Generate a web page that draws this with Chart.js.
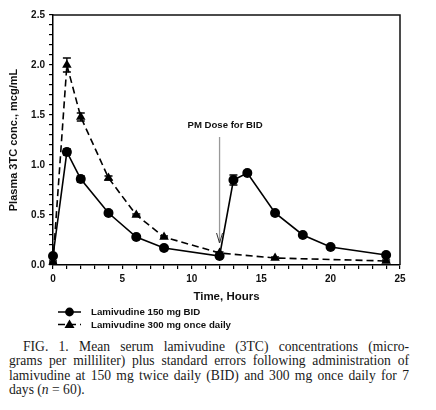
<!DOCTYPE html>
<html>
<head>
<meta charset="utf-8">
<script src="https://cdn.jsdelivr.net/npm/chart.js@4.4.1/dist/chart.umd.min.js"></script>
<style>
  html, body { margin: 0; padding: 0; background: #fff; }
  #wrap { position: relative; width: 436px; height: 410px; }
  #chart { position: absolute; left: 0; top: 0; }
  #caption {
    position: absolute; left: 9px; top: 340px; width: 400px;
    font-family: 'Liberation Serif', 'Times New Roman', serif;
    font-size: 13.6px; line-height: 14.3px; color: #1a1a1a;
  }
  #caption div { text-align: justify; text-align-last: justify; white-space: nowrap; }
  #caption div.first { padding-left: 14px; }
  #caption div.last { text-align-last: left; }
</style>
</head>
<body>
<div id="wrap">
  <canvas id="chart" width="436" height="335"></canvas>
  <div id="caption">
    <div class="first">FIG. 1. Mean serum lamivudine (3TC) concentrations (micro-</div>
    <div>grams per milliliter) plus standard errors following administration of</div>
    <div>lamivudine at 150 mg twice daily (BID) and 300 mg once daily for 7</div>
    <div class="last">days (<i>n</i> = 60).</div>
  </div>
</div>
<script>
'use strict'

// BID: 150 mg twice daily
var bidHours = [0, 1, 2, 4, 6, 8, 12, 13, 14, 16, 18, 20, 24]
var bidConc = [0.09, 1.13, 0.86, 0.52, 0.28, 0.17, 0.09, 0.85, 0.92, 0.52, 0.30, 0.18, 0.10]
var bidSE = [0.01, 0.03, 0.03, 0.02, 0.01, 0.01, 0.01, 0.05, 0.02, 0.02, 0.01, 0.01, 0.01]

// 300 mg once daily
var qdHours = [0, 1, 2, 4, 6, 8, 12, 16, 24]
var qdConc = [0.03, 2.00, 1.48, 0.87, 0.50, 0.28, 0.12, 0.07, 0.04]
var qdSE = [0.01, 0.07, 0.04, 0.02, 0.01, 0.01, 0.01, 0.01, 0.01]

var seriesLabels = ['Lamivudine 150 mg BID', 'Lamivudine 300 mg once daily']
var xMajorTicks = [0, 5, 10, 15, 20, 25]
var yMajorTicks = [0.0, 0.5, 1.0, 1.5, 2.0, 2.5]

// PM dose arrow (data units)
var doseLabel = 'PM Dose for BID'
var doseHour = 12
var doseFrom = 1.28
var doseTo = 0.22
var doseTextAt = 1.40

var sansFamily = "'Liberation Sans', Arial, sans-serif"

function toPoints(xs, ys) {
  return xs.map(function(x, i) { return { x: x, y: ys[i] } })
}

var errorBars = {
  id: 'errorBars',
  afterDatasetsDraw: function(chart) {
    var ctx = chart.ctx
    var xs = chart.scales.x, ys = chart.scales.y
    var sets = [[bidHours, bidConc, bidSE], [qdHours, qdConc, qdSE]]
    ctx.save()
    ctx.strokeStyle = '#000'
    ctx.lineWidth = 1.3
    sets.forEach(function(s) {
      s[0].forEach(function(h, i) {
        var px = xs.getPixelForValue(h)
        var top = ys.getPixelForValue(s[1][i] + s[2][i])
        var bot = ys.getPixelForValue(s[1][i] - s[2][i])
        ctx.beginPath()
        ctx.moveTo(px, top); ctx.lineTo(px, bot)
        ctx.moveTo(px - 4, top); ctx.lineTo(px + 4, top)
        ctx.moveTo(px - 4, bot); ctx.lineTo(px + 4, bot)
        ctx.stroke()
      })
    })
    ctx.restore()
  }
}

var frameAndNotes = {
  id: 'frameAndNotes',
  afterDraw: function(chart) {
    var ctx = chart.ctx
    var a = chart.chartArea
    var xs = chart.scales.x, ys = chart.scales.y
    ctx.save()
    // top and right frame
    ctx.strokeStyle = '#111'
    ctx.lineWidth = 1.5
    ctx.beginPath()
    ctx.moveTo(a.left, a.top); ctx.lineTo(a.right, a.top); ctx.lineTo(a.right, a.bottom)
    ctx.stroke()

    // dose arrow
    var ax = xs.getPixelForValue(doseHour)
    var y1 = ys.getPixelForValue(doseFrom), y2 = ys.getPixelForValue(doseTo)
    ctx.strokeStyle = '#999'
    ctx.lineWidth = 1.3
    ctx.beginPath(); ctx.moveTo(ax, y1); ctx.lineTo(ax, y2); ctx.stroke()
    ctx.strokeStyle = '#333'
    ctx.lineWidth = 1
    ctx.beginPath()
    ctx.moveTo(ax - 3, y2 - 10); ctx.lineTo(ax, y2); ctx.lineTo(ax + 3, y2 - 10)
    ctx.stroke()
    ctx.fillStyle = '#111'
    ctx.font = 'bold 9.6px ' + sansFamily
    ctx.textAlign = 'center'
    ctx.textBaseline = 'middle'
    ctx.fillText(doseLabel, ax + 5.5, ys.getPixelForValue(doseTextAt))

    // legend
    chart.data.datasets.forEach(function(ds, i) {
      var ly = 312 + i * 12.5
      ctx.strokeStyle = '#000'
      ctx.lineWidth = 1.5
      ctx.setLineDash(ds.borderDash || [])
      ctx.beginPath(); ctx.moveTo(58, ly); ctx.lineTo(81, ly); ctx.stroke()
      ctx.setLineDash([])
      ctx.fillStyle = '#000'
      ctx.beginPath()
      if (ds.pointStyle === 'triangle') {
        ctx.moveTo(69.5, ly - 5); ctx.lineTo(74.5, ly + 3.5); ctx.lineTo(64.5, ly + 3.5); ctx.closePath()
      } else {
        ctx.arc(69.5, ly, 4.4, 0, Math.PI * 2)
      }
      ctx.fill()
      ctx.fillStyle = '#111'
      ctx.font = 'bold 9.7px ' + sansFamily
      ctx.textAlign = 'left'
      ctx.fillText(ds.label, 91, ly + 0.5)
    })
    ctx.restore()
  }
}

var chart = new Chart(document.getElementById('chart').getContext('2d'), {
  type: 'line',
  data: {
    datasets: [
      { label: seriesLabels[0], data: toPoints(bidHours, bidConc),
        borderColor: '#000', borderWidth: 1.6, backgroundColor: '#000',
        pointStyle: 'circle', pointRadius: 5, pointBorderWidth: 0, tension: 0 },
      { label: seriesLabels[1], data: toPoints(qdHours, qdConc),
        borderColor: '#000', borderWidth: 1.6, borderDash: [7, 4], backgroundColor: '#000',
        pointStyle: 'triangle', pointRadius: 5.5, pointBorderWidth: 0, tension: 0 }
    ]
  },
  options: {
    responsive: false,
    animation: false,
    clip: false,
    layout: { padding: { left: 7, top: 15, right: 36, bottom: 30 } },
    plugins: { legend: { display: false }, tooltip: { enabled: false } },
    scales: {
      x: {
        type: 'linear', min: 0, max: 25,
        afterFit: function(s) { s.height = 40 },
        grid: { drawOnChartArea: false, drawTicks: true, tickLength: 4, color: '#000', lineWidth: 1.2 },
        border: { color: '#000', width: 1.5 },
        ticks: {
          stepSize: 1, autoSkip: false, maxRotation: 0, padding: 4, color: '#111',
          font: { family: sansFamily, weight: 'bold', size: 10 },
          callback: function(v) { return xMajorTicks.indexOf(v) >= 0 ? String(v) : '' }
        },
        title: { display: true, text: 'Time, Hours', color: '#111', padding: { top: 0, bottom: 1 },
          font: { family: sansFamily, weight: 'bold', size: 11.5 } }
      },
      y: {
        min: 0, max: 2.5,
        afterFit: function(s) { s.width = 46 },
        grid: { drawOnChartArea: false, drawTicks: true, tickLength: 4, color: '#000', lineWidth: 1.2 },
        border: { color: '#000', width: 1.5 },
        ticks: {
          stepSize: 0.1, autoSkip: false, padding: 4, color: '#111',
          font: { family: sansFamily, weight: 'bold', size: 10 },
          callback: function(v) {
            var r = Math.round(v * 10) / 10
            return yMajorTicks.indexOf(r) >= 0 ? r.toFixed(1) : ''
          }
        },
        title: { display: true, text: 'Plasma 3TC conc., mcg/mL', color: '#111', padding: { top: 0, bottom: 0 },
          font: { family: sansFamily, weight: 'bold', size: 11 } }
      }
    }
  },
  plugins: [errorBars, frameAndNotes]
})
</script>
</body>
</html>
